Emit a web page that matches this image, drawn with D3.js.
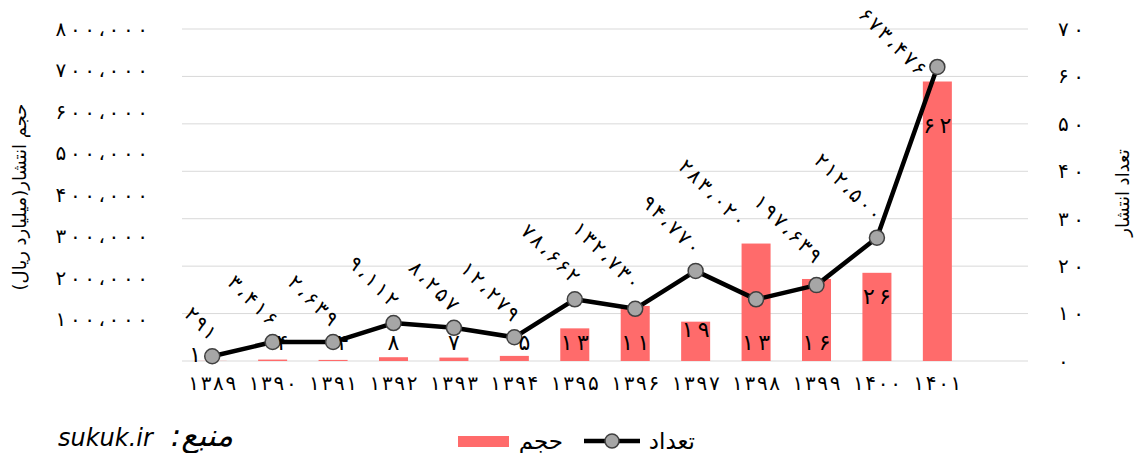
<!DOCTYPE html>
<html>
<head>
<meta charset="utf-8">
<script src="https://cdn.jsdelivr.net/npm/d3@7"></script>
<style>
  body { margin: 0; background: #fff; }
  text { font-family: "DejaVu Sans", sans-serif; fill: #000; }
</style>
</head>
<body>
<div class="CHART"></div>
<script>
// data
var years = ["1389","1390","1391","1392","1393","1394","1395","1396","1397","1398","1399","1400","1401"];
var volume = [291, 3416, 2639, 9112, 8257, 12279, 78662, 132730, 94770, 283020, 197639, 212500, 673476];
var count = [1, 4, 4, 8, 7, 5, 13, 11, 19, 13, 16, 26, 62];
var leftTicks = [100000, 200000, 300000, 400000, 500000, 600000, 700000, 800000];
var rightTicks = [0, 10, 20, 30, 40, 50, 60, 70];

var W = 1136, H = 453;
var plotLeft = 182, plotRight = 1028, plotTop = 29, plotBottom = 361;

// persian digits + arabic comma for thousands
var fa = d3.formatLocale({decimal: "٫", thousands: "،", grouping: [3], currency: ["", ""],
  numerals: ["۰","۱","۲","۳","۴","۵","۶","۷","۸","۹"]});
var fmt = fa.format(",d");
function faDigits(s) { return s.replace(/\d/g, function(c) { return "۰۱۲۳۴۵۶۷۸۹"[+c]; }); }

// chrome ignores letter-spacing on arabic script, so spread the digits with textLength
function spread(sel, perChar) {
  sel.each(function() {
    var n = this.textContent.length;
    if (n > 1) d3.select(this).attr("textLength", n * perChar).attr("lengthAdjust", "spacing");
  });
}

var svg = d3.select(".CHART").append("svg")
  .attr("width", W).attr("height", H);

// chart has one empty slot on the right, so categories take 13/14 of the width
var x = d3.scaleBand()
  .domain(years)
  .range([plotLeft, plotLeft + (plotRight - plotLeft) * 13 / 14])
  .paddingInner(0.52).paddingOuter(0.26);
var cx = function(d) { return x(d) + x.bandwidth() / 2; };

var yL = d3.scaleLinear().domain([0, 800000]).range([plotBottom, plotTop]);
var yR = d3.scaleLinear().domain([0, 70]).range([plotBottom, plotTop]);

// gridlines
svg.append("g").selectAll("line")
  .data(rightTicks)
  .enter().append("line")
  .attr("x1", plotLeft).attr("x2", plotRight)
  .attr("y1", function(d) { return yR(d); })
  .attr("y2", function(d) { return yR(d); })
  .attr("stroke", "#d9d9d9").attr("stroke-width", 1);

// left axis
var axL = svg.append("g").attr("transform", "translate(148,0)")
  .call(d3.axisLeft(yL).tickValues(leftTicks).tickSize(0).tickPadding(0).tickFormat(fmt));
axL.select(".domain").remove();
axL.selectAll("text").attr("font-size", 20)
  .style("font-family", "DejaVu Sans").attr("fill", "#000")
  .call(spread, 13.2);

// right axis
var axR = svg.append("g").attr("transform", "translate(1055,0)")
  .call(d3.axisRight(yR).tickValues(rightTicks).tickSize(0).tickPadding(3).tickFormat(fmt));
axR.select(".domain").remove();
axR.selectAll("text").attr("font-size", 20)
  .style("font-family", "DejaVu Sans").attr("fill", "#000")
  .call(spread, 13);

// x axis
var axX = svg.append("g").attr("transform", "translate(0," + plotBottom + ")")
  .call(d3.axisBottom(x).tickSize(0).tickPadding(15).tickFormat(faDigits));
axX.select(".domain").remove();
axX.selectAll("text").attr("font-size", 20)
  .style("font-family", "DejaVu Sans").attr("fill", "#000")
  .call(spread, 12);

// axis titles
svg.append("text")
  .attr("transform", "translate(26,197) rotate(-90)")
  .attr("text-anchor", "middle").attr("font-size", 18)
  .style("direction", "rtl").style("unicode-bidi", "embed")
  .text("حجم انتشار(میلیارد ریال)");
svg.append("text")
  .attr("transform", "translate(1129,193) rotate(-90)")
  .attr("text-anchor", "middle").attr("font-size", 18)
  .style("direction", "rtl").style("unicode-bidi", "embed")
  .text("تعداد انتشار");

// bars (volume)
svg.append("g").selectAll("rect")
  .data(years)
  .enter().append("rect")
  .attr("x", function(d) { return x(d); })
  .attr("width", x.bandwidth())
  .attr("y", function(d, i) { return yL(volume[i]); })
  .attr("height", function(d, i) { return plotBottom - yL(volume[i]); })
  .attr("fill", "#ff6b6b");

// line (count)
var line = d3.line()
  .x(function(d) { return cx(d); })
  .y(function(d, i) { return yR(count[i]); });
svg.append("path")
  .datum(years)
  .attr("d", line)
  .attr("fill", "none").attr("stroke", "#000").attr("stroke-width", 4.5)
  .attr("stroke-linejoin", "round");

svg.append("g").selectAll("circle")
  .data(years)
  .enter().append("circle")
  .attr("cx", function(d) { return cx(d); })
  .attr("cy", function(d, i) { return yR(count[i]); })
  .attr("r", 7.5)
  .attr("fill", "#a6a6a6").attr("stroke", "#404040").attr("stroke-width", 1.5);

// count labels, under the markers
svg.append("g").selectAll("text")
  .data(years)
  .enter().append("text")
  .attr("x", function(d, i) {
    var py = yR(count[i]);
    if (py > 350) return cx(d) - 17;
    if (py > 335) return cx(d) + 10;
    return cx(d);
  })
  .attr("y", function(d, i) {
    var py = yR(count[i]);
    if (py > 350) return py + 6;
    return Math.min(py + 66, 350);
  })
  .attr("text-anchor", "middle").attr("font-size", 22)
  .text(function(d, i) { return fmt(count[i]); })
  .call(spread, 14);

// volume labels, rotated 45deg above the higher of bar top / marker
var volPerChar = 12.3;
svg.append("g").selectAll("text")
  .data(years)
  .enter().append("text")
  .attr("transform", function(d, i) {
    var barTop = yL(volume[i]), pt = yR(count[i]);
    var ax = cx(d) - 3, ay = Math.min(barTop, pt) - 15;
    var rise = fmt(volume[i]).length * volPerChar * Math.SQRT1_2;
    // label sitting on a tall bar: nudge left, away from the next label
    if (pt - barTop > 20) ax -= 15;
    // would run off the top: put it beside the marker instead
    if (ay - rise - 12 < 0) { ax = cx(d) - 19; ay = pt + 10; }
    return "translate(" + ax + "," + ay + ") rotate(45)";
  })
  .attr("text-anchor", "end").attr("font-size", 20)
  .text(function(d, i) { return fmt(volume[i]); })
  .call(spread, volPerChar);

// legend
var lg = svg.append("g");
lg.append("rect").attr("x", 458).attr("y", 436).attr("width", 51).attr("height", 11).attr("fill", "#ff6b6b");
lg.append("text").attr("x", 563).attr("y", 449).attr("text-anchor", "end").attr("font-size", 23)
  .text("حجم");
lg.append("line").attr("x1", 584).attr("x2", 640).attr("y1", 441).attr("y2", 441)
  .attr("stroke", "#000").attr("stroke-width", 4.5);
lg.append("circle").attr("cx", 612).attr("cy", 441).attr("r", 7)
  .attr("fill", "#a6a6a6").attr("stroke", "#404040").attr("stroke-width", 1.5);
lg.append("text").attr("x", 695).attr("y", 449).attr("text-anchor", "end").attr("font-size", 23)
  .text("تعداد");

// source note
svg.append("text")
  .attr("x", 58).attr("y", 446)
  .attr("font-size", 24).attr("font-style", "italic")
  .text("sukuk.ir");
svg.append("text")
  .attr("x", 233).attr("y", 446)
  .attr("text-anchor", "end").attr("font-size", 31).attr("font-style", "italic")
  .text(":منبع");
</script>
</body>
</html>
